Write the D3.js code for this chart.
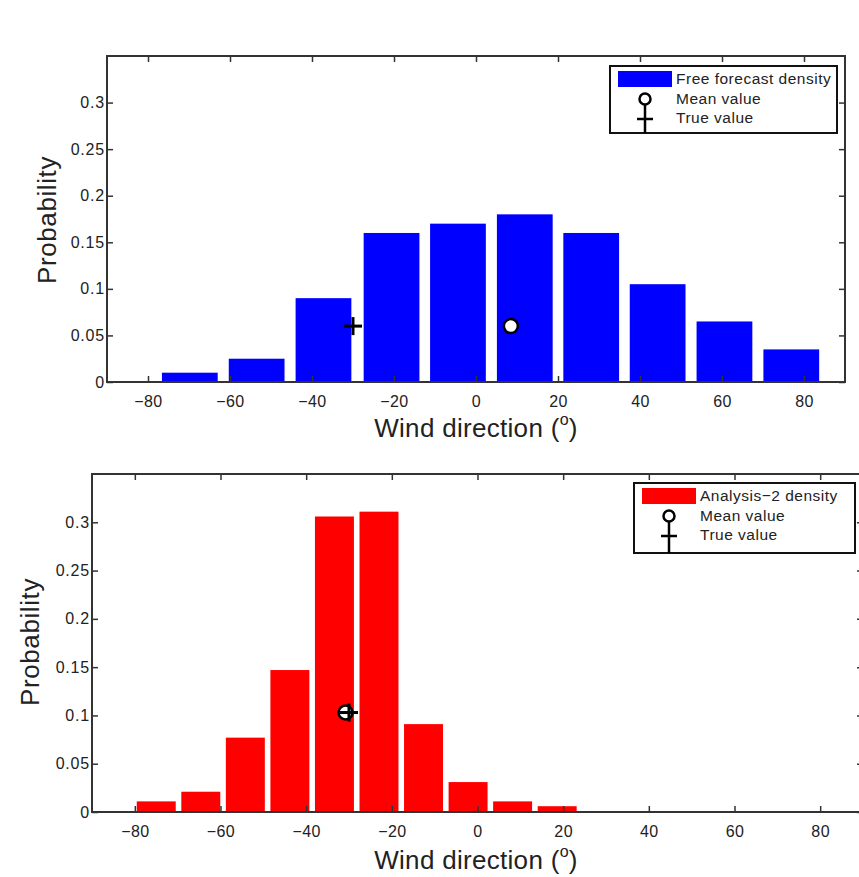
<!DOCTYPE html>
<html>
<head>
<meta charset="utf-8">
<script src="https://cdn.jsdelivr.net/npm/d3@7"></script>
<style>
  html, body { margin: 0; padding: 0; background: #fff; }
  svg { display: block; }
  text { font-family: "Liberation Sans", Arial, Helvetica, sans-serif; fill: #222; }
</style>
</head>
<body>
<svg id="chart" width="859" height="877"></svg>
<script>
// ---------- data ----------
const xTicks = [-80, -60, -40, -20, 0, 20, 40, 60, 80];
const yTicks = [0, 0.05, 0.1, 0.15, 0.2, 0.25, 0.3];
const yTickLabels = ["0", "0.05", "0.1", "0.15", "0.2", "0.25", "0.3"];

const freeCenters = [-69.8, -53.5, -37.2, -20.6, -4.4, 11.9, 28.1, 44.3, 60.6, 76.9];
const freeValues  = [0.01, 0.025, 0.09, 0.16, 0.17, 0.18, 0.16, 0.105, 0.065, 0.035];
const freeMean = [8.5, 0.06];
const freeTrue = [-30, 0.06];

const anaCenters = [-75.0, -64.6, -54.2, -43.8, -33.4, -23.0, -12.6, -2.2, 8.2, 18.6];
const anaValues  = [0.011, 0.021, 0.077, 0.147, 0.306, 0.311, 0.091, 0.031, 0.011, 0.006];
const anaMean = [-30.8, 0.103];
const anaTrue = [-30, 0.103];

const legendLabels1 = ["Free forecast density", "Mean value", "True value"];
const legendLabels2 = ["Analysis\u22122 density", "Mean value", "True value"];

// ---------- drawing ----------
const svg = d3.select("#chart");

function panel(cfg) {
  const g = svg.append("g");
  const x = d3.scaleLinear().domain([-90, 90]).range([cfg.left, cfg.right]);
  const y = d3.scaleLinear().domain([0, 0.35]).range([cfg.bottom, cfg.top]);
  const tick = 6;

  // bars
  g.selectAll("rect.bar").data(cfg.centers).enter().append("rect")
    .attr("class", "bar")
    .attr("x", (d) => x(d - cfg.barW / 2))
    .attr("width", (d) => x(d + cfg.barW / 2) - x(d - cfg.barW / 2))
    .attr("y", (d, i) => y(cfg.values[i]))
    .attr("height", (d, i) => y(0) - y(cfg.values[i]))
    .attr("fill", cfg.color);

  // frame
  const ax = "#333";
  g.append("rect")
    .attr("x", cfg.left).attr("y", cfg.top)
    .attr("width", cfg.right - cfg.left).attr("height", cfg.bottom - cfg.top)
    .attr("fill", "none").attr("stroke", ax).attr("stroke-width", 2);

  // bottom axis with inward ticks
  const xa = g.append("g").attr("transform", `translate(0,${cfg.bottom})`)
    .call(d3.axisBottom(x).tickValues(xTicks).tickSizeInner(-tick).tickSizeOuter(0).tickPadding(14)
      .tickFormat((d) => d < 0 ? "\u2212" + Math.abs(d) : d));
  xa.select(".domain").remove();
  xa.selectAll("line").attr("stroke", ax).attr("stroke-width", 1.5);
  xa.selectAll("text").attr("font-size", 16).attr("letter-spacing", 0.4)
    .attr("font-family", "Liberation Sans, Arial, sans-serif").attr("fill", "#222");

  // top ticks
  const xt = g.append("g").attr("transform", `translate(0,${cfg.top})`)
    .call(d3.axisTop(x).tickValues(xTicks).tickSizeInner(-tick).tickSizeOuter(0).tickFormat(""));
  xt.select(".domain").remove();
  xt.selectAll("line").attr("stroke", ax).attr("stroke-width", 1.5);

  // left axis
  const ya = g.append("g").attr("transform", `translate(${cfg.left},0)`)
    .call(d3.axisLeft(y).tickValues(yTicks).tickSizeInner(-tick).tickSizeOuter(0).tickPadding(2)
      .tickFormat((d, i) => yTickLabels[i]));
  ya.select(".domain").remove();
  ya.selectAll("line").attr("stroke", ax).attr("stroke-width", 1.5);
  ya.selectAll("text").attr("font-size", 16).attr("letter-spacing", 0.8)
    .attr("font-family", "Liberation Sans, Arial, sans-serif").attr("fill", "#222");

  // right ticks
  const yr = g.append("g").attr("transform", `translate(${cfg.right},0)`)
    .call(d3.axisRight(y).tickValues(yTicks).tickSizeInner(-tick).tickSizeOuter(0).tickFormat(""));
  yr.select(".domain").remove();
  yr.selectAll("line").attr("stroke", ax).attr("stroke-width", 1.5);

  // markers
  const plus = (cx, cy, s) => {
    g.append("line").attr("x1", cx - s).attr("x2", cx + s).attr("y1", cy).attr("y2", cy)
      .attr("stroke", "#000").attr("stroke-width", 3);
    g.append("line").attr("x1", cx).attr("x2", cx).attr("y1", cy - s).attr("y2", cy + s)
      .attr("stroke", "#000").attr("stroke-width", 3);
  };
  g.append("circle").attr("cx", x(cfg.mean[0])).attr("cy", y(cfg.mean[1])).attr("r", 7)
    .attr("fill", "#fff").attr("stroke", "#000").attr("stroke-width", 2.5);
  plus(x(cfg.truth[0]), y(cfg.truth[1]), 9);

  // axis labels
  const xl = g.append("text").attr("x", cfg.xLabelX).attr("y", cfg.xLabelY)
    .attr("text-anchor", "middle").attr("font-size", 26).attr("letter-spacing", 0.3);
  xl.append("tspan").text("Wind direction (");
  xl.append("tspan").attr("font-size", 16).attr("dy", -12).text("o");
  xl.append("tspan").attr("dy", 12).text(")");

  g.append("text").attr("transform", `translate(${cfg.yLabelX},${cfg.yLabelY}) rotate(-90)`)
    .attr("text-anchor", "middle").attr("font-size", 26).attr("letter-spacing", 0.6).text("Probability");

  // legend
  const L = cfg.legend;
  const lg = g.append("g");
  lg.append("rect").attr("x", L.x).attr("y", L.y).attr("width", L.w).attr("height", L.h)
    .attr("fill", "#fff").attr("stroke", "#111").attr("stroke-width", 2);
  lg.append("rect").attr("x", L.x + 8).attr("y", L.y + 5).attr("width", 54).attr("height", 16)
    .attr("fill", cfg.color);
  const sx = L.x + 35;
  lg.append("circle").attr("cx", sx).attr("cy", L.y + 33).attr("r", 5.5)
    .attr("fill", "#fff").attr("stroke", "#000").attr("stroke-width", 2.5);
  lg.append("line").attr("x1", sx).attr("x2", sx).attr("y1", L.y + 38).attr("y2", L.y + L.h)
    .attr("stroke", "#000").attr("stroke-width", 2.5);
  lg.append("line").attr("x1", sx - 8).attr("x2", sx + 8).attr("y1", L.y + 53).attr("y2", L.y + 53)
    .attr("stroke", "#000").attr("stroke-width", 2.5);
  lg.selectAll("text.leg").data(cfg.legendLabels).enter().append("text")
    .attr("class", "leg")
    .attr("x", L.x + 66).attr("y", (d, i) => L.y + 18 + i * 19.5)
    .attr("font-size", 15.5).attr("letter-spacing", 0.5).text((d) => d);
}

panel({
  left: 107, right: 845, top: 56, bottom: 382,
  centers: freeCenters, values: freeValues, barW: 13.6, color: "#0000ff",
  mean: freeMean, truth: freeTrue,
  xLabelX: 476, xLabelY: 437, yLabelX: 56, yLabelY: 220,
  legend: { x: 610, y: 66, w: 227, h: 67 }, legendLabels: legendLabels1
});

panel({
  left: 92, right: 863, top: 474, bottom: 812,
  centers: anaCenters, values: anaValues, barW: 9.1, color: "#ff0000",
  mean: anaMean, truth: anaTrue,
  xLabelX: 476, xLabelY: 869, yLabelX: 39, yLabelY: 642,
  legend: { x: 634, y: 483, w: 221, h: 70 }, legendLabels: legendLabels2
});
</script>
</body>
</html>
